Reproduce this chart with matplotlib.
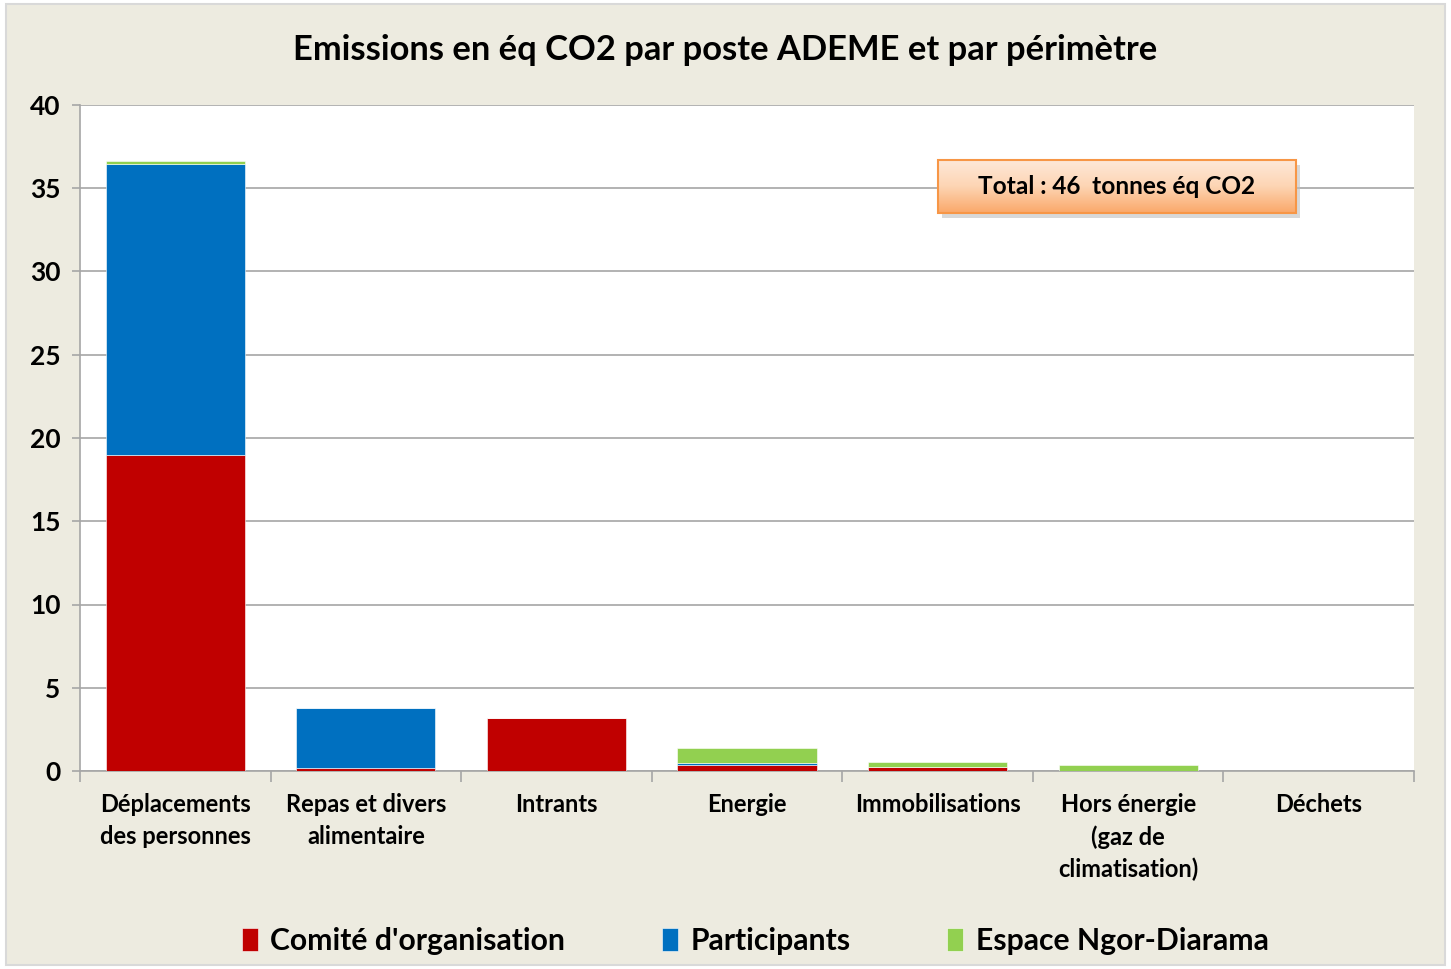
import numpy as np
import matplotlib.pyplot as plt
from matplotlib.patches import Rectangle
from matplotlib.colors import LinearSegmentedColormap

plt.rcParams['font.family'] = ['Lato', 'DejaVu Sans']

categories = ['Déplacements\ndes personnes', 'Repas et divers\nalimentaire', 'Intrants',
              'Energie', 'Immobilisations', 'Hors énergie\n(gaz de\nclimatisation)', 'Déchets']
comite = [19.0, 0.2, 3.2, 0.38, 0.22, 0.0, 0.0]
participants = [17.45, 3.6, 0.0, 0.08, 0.0, 0.0, 0.0]
espace = [0.2, 0.0, 0.0, 0.92, 0.3, 0.35, 0.0]
series_names = ["Comité d'organisation", 'Participants', 'Espace Ngor-Diarama']
colors = ['#C00000', '#0070C0', '#92D050']

bg = '#EDEBE0'
fig = plt.figure(figsize=(14.51, 9.69), dpi=100, facecolor='white')
fig.patches.append(Rectangle((0.004, 0.004), 0.992, 0.992, transform=fig.transFigure,
                             facecolor=bg, edgecolor='#D9D9D9', lw=1.5, zorder=-1))
ax = fig.add_axes([80 / 1451, 1 - 771 / 969, (1414 - 80) / 1451, (771 - 105) / 969])
ax.set_facecolor('white')

x = np.arange(len(categories))
bottom = np.zeros(len(categories))
for vals, name, c in zip([comite, participants, espace], series_names, colors):
    ax.bar(x, vals, 0.73, bottom=bottom, color=c, label=name, edgecolor='white',
           linewidth=0.4, zorder=3)
    bottom += np.array(vals)

ax.yaxis.grid(True, color='#A6A6A6', lw=1.2, zorder=0)
for s in ['top', 'right']:
    ax.spines[s].set_visible(False)
for s in ['left', 'bottom']:
    ax.spines[s].set_color('#A6A6A6')
    ax.spines[s].set_linewidth(1.2)

ax.set_xticks(x)
ax.set_xticklabels(categories, fontsize=17, fontweight='bold', linespacing=1.45)
ax.tick_params(axis='x', length=0, pad=16)
ax.set_xticks(np.arange(-0.5, len(categories)), minor=True)
ax.tick_params(axis='x', which='minor', length=8, color='#A6A6A6', width=1.2)
ax.set_yticks(range(0, 41, 5))
ax.tick_params(axis='y', labelsize=19, length=6, color='#A6A6A6', width=1.2, pad=8)
for lbl in ax.get_yticklabels():
    lbl.set_fontweight('bold')

fig.text(0.5, 1 - 50 / 969, 'Emissions en éq CO2 par poste ADEME et par périmètre',
         ha='center', va='center', fontsize=24.8, fontweight='bold')

# total box with gradient and shadow
x0, x1, y0, y1 = 0.6432, 0.9115, 0.8378, 0.9174
ax.add_patch(Rectangle((x0 + 0.003, y0 - 0.007), x1 - x0, y1 - y0, transform=ax.transAxes,
                       facecolor='#BFBFBF', edgecolor='none', alpha=0.6, zorder=4))
cmap = LinearSegmentedColormap.from_list('orange', ['#FAA86A', '#FDD5B4', '#FEE9DA'])
grad = np.linspace(0, 1, 100).reshape(-1, 1)
ax.imshow(grad, extent=[x0, x1, y0, y1], transform=ax.transAxes, cmap=cmap,
          aspect='auto', origin='lower', zorder=5)
ax.add_patch(Rectangle((x0, y0), x1 - x0, y1 - y0, transform=ax.transAxes,
                       facecolor='none', edgecolor='#F79646', lw=1.5, zorder=6))
ax.text((x0 + x1) / 2, (y0 + y1) / 2, 'Total : 46  tonnes éq CO2', transform=ax.transAxes,
        ha='center', va='center', fontsize=17.6, fontweight='bold', zorder=7)

ax.set_xlim(-0.5, len(categories) - 0.5)
ax.set_ylim(0, 40)

fig.legend(loc='center', bbox_to_anchor=(755 / 1451, 1 - 941 / 969), ncol=3, frameon=False,
           prop={'size': 21.7, 'weight': 'bold'}, handlelength=0.55, handleheight=0.75,
           columnspacing=3.2, handletextpad=0.4)

fig.savefig('out.png', dpi=100, facecolor=fig.get_facecolor())
